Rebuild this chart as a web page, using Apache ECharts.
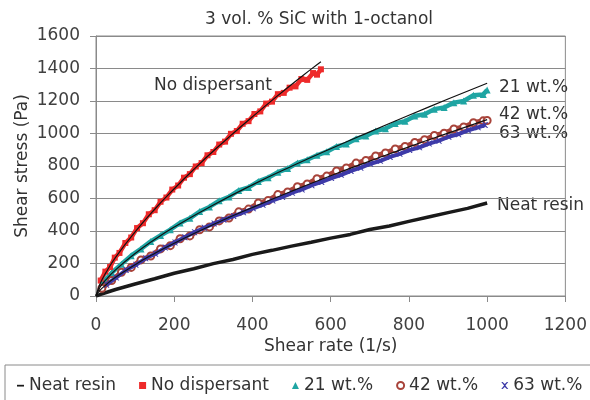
<!DOCTYPE html>
<html>
<head>
<meta charset="utf-8">
<script src="https://cdn.jsdelivr.net/npm/echarts@6/dist/echarts.min.js"></script>
<style>
    html, body { margin: 0; padding: 0; background: #fff; }
    #main { width: 590px; height: 400px; }
</style>
</head>
<body>
<div id="main"></div>
<script>
var FONT = 'DejaVu Sans';

// x axis ticks / y axis ticks
var xTicks = [0, 200, 400, 600, 800, 1000, 1200];
var yTicks = [0, 200, 400, 600, 800, 1000, 1200, 1400, 1600];

// Neat resin
var neatX = [0, 10, 50, 100, 150, 200, 250, 300, 350, 400, 450, 500, 550, 600, 650, 700, 750, 800, 850, 900, 950, 1000];
var neatY = [0, 9, 40, 74, 106, 140, 168, 199, 225, 256, 281, 307, 331, 356, 379, 409, 431, 459, 486, 513, 539, 572];

// No dispersant
var noDispX = [12, 24, 36, 48, 60, 75, 90, 105, 120, 135, 150, 165, 180, 195, 210, 225, 240, 255, 270, 285,
    300, 315, 330, 345, 360, 375, 390, 405, 420, 435, 450, 465, 480, 495, 510, 525, 540, 555, 565, 575];
var noDispY = [95, 150, 178, 236, 265, 326, 360, 418, 448, 503, 528, 580, 606, 655, 680, 728, 750, 797, 818, 866,
    886, 932, 950, 998, 1015, 1060, 1076, 1120, 1136, 1184, 1196, 1242, 1250, 1282, 1290, 1335, 1330, 1372, 1362, 1395];

// 21 wt.%
var wt21X = [15, 40, 65, 90, 115, 140, 165, 190, 215, 240, 265, 290, 315, 340, 365, 390, 415, 440, 465, 490,
    515, 540, 565, 590, 615, 640, 665, 690, 715, 740, 765, 790, 815, 840, 865, 890, 915, 940, 965, 990, 1000];
var wt21Y = [75, 142, 196, 248, 290, 336, 372, 408, 450, 478, 520, 548, 586, 610, 650, 668, 705, 728, 762, 784,
    818, 838, 866, 888, 920, 935, 968, 985, 1015, 1030, 1062, 1075, 1108, 1118, 1150, 1160, 1190, 1200, 1235, 1240, 1268];

// 42 wt.%
var wt42X = [15, 40, 65, 90, 115, 140, 165, 190, 215, 240, 265, 290, 315, 340, 365, 390, 415, 440, 465, 490,
    515, 540, 565, 590, 615, 640, 665, 690, 715, 740, 765, 790, 815, 840, 865, 890, 915, 940, 965, 990, 1000];
var wt42Y = [48, 95, 146, 176, 222, 246, 290, 310, 352, 370, 408, 425, 462, 480, 518, 535, 572, 588, 624, 640,
    672, 690, 722, 738, 770, 788, 818, 834, 862, 880, 905, 920, 945, 962, 988, 1002, 1028, 1040, 1066, 1078, 1080];

// 63 wt.%
var wt63X = [27, 52, 77, 102, 127, 152, 177, 202, 227, 252, 277, 302, 327, 352, 377, 402, 427, 452, 477, 502,
    527, 552, 577, 602, 627, 652, 677, 702, 727, 752, 777, 802, 827, 852, 877, 902, 927, 952, 977, 995];
var wt63Y = [70, 114, 160, 192, 232, 260, 298, 330, 362, 392, 420, 446, 470, 492, 515, 540, 562, 588, 610, 636,
    656, 682, 702, 726, 746, 770, 790, 814, 832, 856, 875, 898, 915, 938, 956, 980, 996, 1020, 1038, 1052];

// fitted curves (black)
var fitNoDispX = [0, 10, 25, 50, 100, 150, 200, 250, 300, 350, 400, 450, 500, 550, 575];
var fitNoDispY = [0, 72, 142, 238, 395, 534, 660, 779, 892, 999, 1103, 1204, 1302, 1396, 1442];
var fit21X = [0, 10, 25, 50, 100, 150, 200, 300, 400, 500, 600, 700, 800, 900, 1000];
var fit21Y = [0, 52, 99, 161, 261, 347, 424, 560, 684, 798, 906, 1010, 1112, 1212, 1309];
var fit4263X = [0, 10, 25, 50, 100, 150, 200, 300, 400, 500, 600, 700, 800, 900, 1000];
var fit4263Y = [0, 34, 68, 115, 193, 262, 325, 440, 545, 645, 740, 830, 918, 1002, 1085];

var XMARK = 'path://M0,0L2,0L5,3L8,0L10,0L6,5L10,10L8,10L5,7L2,10L0,10L4,5Z';
var DASH = 'path://M0,0M0,4L10,4L10,6.5L0,6.5ZM10,10';

function pairs(xs, ys) {
    var out = [];
    for (var i = 0; i < xs.length; i++) {
        out.push([xs[i], ys[i]]);
    }
    return out;
}

function fitLine(xs, ys) {
    return {
        type: 'line', data: pairs(xs, ys), symbol: 'none', smooth: true, z: 5,
        lineStyle: { color: '#111', width: 1.2 }, silent: true
    };
}

function plain(v) {
    return String(v);
}

var chart = echarts.init(document.getElementById('main'));

var option = {
    animation: false,
    backgroundColor: '#fff',
    title: {
        text: '3 vol. % SiC with 1-octanol',
        left: 205, top: 11, padding: 0,
        textStyle: { fontFamily: FONT, fontSize: 17, fontWeight: 'normal', color: '#333' }
    },
    grid: {
        left: 96, right: 23, top: 36, bottom: 104,
        show: true, borderColor: '#8a8a8a', borderWidth: 1
    },
    legend: {
        left: 5, top: 365, width: 640,
        orient: 'horizontal',
        padding: [12, 40, 12, 12],
        borderColor: '#8a8a8a', borderWidth: 1,
        itemWidth: 7, itemHeight: 7, itemGap: 23,
        selectedMode: false,
        textStyle: { fontFamily: FONT, fontSize: 17, color: '#333' },
        data: [
            { name: 'Neat resin', icon: DASH },
            { name: 'No dispersant', icon: 'rect' },
            { name: '21 wt.%', icon: 'triangle' },
            { name: '42 wt.%', icon: 'emptyCircle' },
            { name: '63 wt.%', icon: XMARK }
        ]
    },
    xAxis: {
        type: 'value', min: xTicks[0], max: xTicks[xTicks.length - 1], interval: 200,
        name: 'Shear rate (1/s)', nameLocation: 'middle', nameGap: 42, nameMoveOverlap: false,
        nameTextStyle: { fontFamily: FONT, fontSize: 17, color: '#333' },
        axisLine: { lineStyle: { color: '#8a8a8a' } },
        axisTick: { show: true, inside: false, length: 6, lineStyle: { color: '#8a8a8a' } },
        axisLabel: { margin: 21, fontFamily: FONT, fontSize: 17, color: '#404040', formatter: plain },
        splitLine: { show: false }
    },
    yAxis: {
        type: 'value', min: yTicks[0], max: yTicks[yTicks.length - 1], interval: 200,
        name: 'Shear stress (Pa)', nameLocation: 'middle', nameGap: 65, nameMoveOverlap: false,
        nameTextStyle: { fontFamily: FONT, fontSize: 17, color: '#333' },
        axisLine: { show: true, lineStyle: { color: '#8a8a8a' } },
        axisTick: { show: true, inside: false, length: 6, lineStyle: { color: '#8a8a8a' } },
        axisLabel: { margin: 16, fontFamily: FONT, fontSize: 17, color: '#404040', formatter: plain },
        splitLine: { show: true, lineStyle: { color: '#8a8a8a', width: 1 } }
    },
    graphic: [
        { type: 'text', left: 154, top: 77, style: { text: 'No dispersant', font: '17px "' + FONT + '"', fill: '#333' } },
        { type: 'text', left: 499, top: 79, style: { text: '21 wt.%', font: '17px "' + FONT + '"', fill: '#333' } },
        { type: 'text', left: 499, top: 106, style: { text: '42 wt.%', font: '17px "' + FONT + '"', fill: '#333' } },
        { type: 'text', left: 499, top: 125, style: { text: '63 wt.%', font: '17px "' + FONT + '"', fill: '#333' } },
        { type: 'text', left: 497, top: 197, style: { text: 'Neat resin', font: '17px "' + FONT + '"', fill: '#333' } }
    ],
    series: [
        {
            name: 'Neat resin', type: 'line', data: pairs(neatX, neatY), symbol: 'none',
            lineStyle: { color: '#1a1a1a', width: 3.5 }, itemStyle: { color: '#1a1a1a' }, z: 3
        },
        {
            name: 'No dispersant', type: 'line', data: pairs(noDispX, noDispY),
            symbol: 'rect', symbolSize: 6, showSymbol: true,
            lineStyle: { color: '#ee2a2a', width: 4.5 }, itemStyle: { color: '#ee2a2a' }, z: 3
        },
        {
            name: '21 wt.%', type: 'line', data: pairs(wt21X, wt21Y),
            symbol: 'triangle', symbolSize: 7, showSymbol: true,
            lineStyle: { color: '#1fa5a3', width: 4.5 }, itemStyle: { color: '#1fa5a3' }, z: 3
        },
        {
            name: '42 wt.%', type: 'line', data: pairs(wt42X, wt42Y),
            symbol: 'emptyCircle', symbolSize: 7, showSymbol: true,
            lineStyle: { color: '#a8433a', width: 5 }, itemStyle: { color: '#a8433a', borderWidth: 1.3 }, z: 3
        },
        {
            name: '63 wt.%', type: 'line', data: pairs(wt63X, wt63Y),
            symbol: XMARK, symbolSize: 6, showSymbol: true,
            lineStyle: { color: '#3d3aa8', width: 4 }, itemStyle: { color: '#3d3aa8' }, z: 4
        },
        fitLine(fitNoDispX, fitNoDispY),
        fitLine(fit21X, fit21Y),
        fitLine(fit4263X, fit4263Y)
    ]
};

chart.setOption(option);
</script>
</body>
</html>
